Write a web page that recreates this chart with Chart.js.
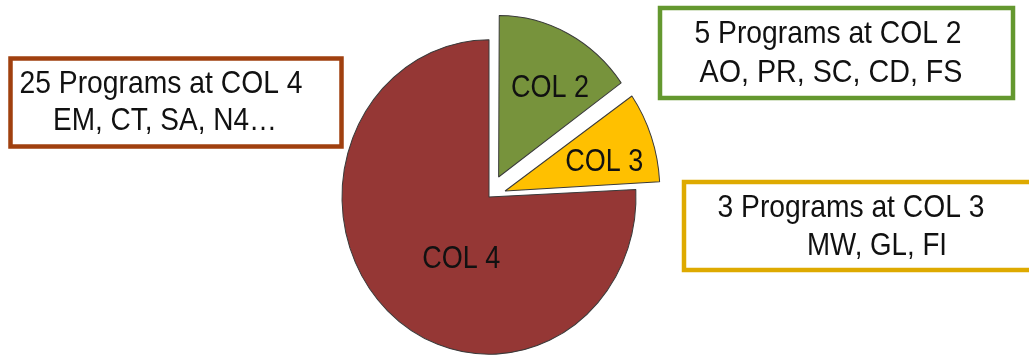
<!DOCTYPE html>
<html>
<head>
<meta charset="utf-8">
<script src="https://cdn.jsdelivr.net/npm/chart.js@4.4.1/dist/chart.umd.min.js"></script>
<style>
  html, body { margin: 0; padding: 0; background: #fff; }
  #wrap { position: relative; width: 1029px; height: 362px; }
</style>
</head>
<body>
<div id="wrap"><canvas id="pie_canvas"></canvas></div>
<script>
const categories = ['COL 2', 'COL 3', 'COL 4'];
const programCounts = [5, 3, 25];
const programCodes = ['AO, PR, SC, CD, FS', 'MW, GL, FI', 'EM, CT, SA, N4…'];
const sliceColors = ['#77933C', '#FFC000', '#953735'];
const boxColors = ['#64982F', '#DEAA00', '#A0400F'];
const explode = [84, 68, 0];

// callout boxes: rect + two text lines (center x, baseline, max width)
const boxes = [
  { rect: [660, 8, 353, 90], lines: [[828, 43, 267], [831, 82, 263]] },
  { rect: [684, 182, 360, 88], lines: [[851, 217, 267], [877, 255, 140]] },
  { rect: [10.5, 58.5, 331, 88], lines: [[161, 93, 283], [165, 130, 224]] }
];
// label placement inside slices: radius fraction, turn in degrees
const labelRadius = [0.65, 0.65, 0.42];
const labelTurn = [4, 3, -17];
const stretchY = 1.07;

Chart.defaults.font.family = "'Liberation Sans', Arial, sans-serif";

function arcShift(arc) {
  const off = (arc.options.offset || 0) / 4;
  const circ = arc.endAngle - arc.startAngle;
  return off * (2 - Math.sin(Math.min(Math.PI, circ)));
}

const stretchPlugin = {
  id: 'stretch',
  beforeDatasetsDraw(chart) {
    const arc = chart.getDatasetMeta(0).data[0];
    const ctx = chart.ctx;
    ctx.save();
    ctx.translate(arc.x, arc.y);
    ctx.scale(1, stretchY);
    ctx.translate(-arc.x, -arc.y);
  },
  afterDatasetsDraw(chart) {
    chart.ctx.restore();
  }
};

const labelPlugin = {
  id: 'labels',
  afterDraw(chart) {
    const ctx = chart.ctx;
    const arcs = chart.getDatasetMeta(0).data;
    ctx.save();
    ctx.fillStyle = '#111';
    ctx.font = "32px 'Liberation Sans', Arial, sans-serif";
    ctx.textAlign = 'center';
    ctx.textBaseline = 'alphabetic';
    arcs.forEach((arc, i) => {
      const mid = (arc.startAngle + arc.endAngle) / 2;
      const t = arcShift(arc);
      const a = mid + labelTurn[i] * Math.PI / 180;
      const d = labelRadius[i] * arc.outerRadius;
      const lx = arc.x + Math.cos(mid) * t + Math.cos(a) * d;
      const ly = arc.y + (Math.sin(mid) * t + Math.sin(a) * d) * stretchY;
      ctx.fillText(categories[i], lx, ly + 11.5, 78);
    });

    boxes.forEach((b, i) => {
      ctx.lineWidth = 4.5;
      ctx.strokeStyle = boxColors[i];
      ctx.strokeRect(b.rect[0], b.rect[1], b.rect[2], b.rect[3]);
      const texts = [programCounts[i] + ' Programs at ' + categories[i], programCodes[i]];
      texts.forEach((txt, j) => {
        const [x, y, w] = b.lines[j];
        ctx.fillText(txt, x, y, w);
      });
    });
    ctx.restore();
  }
};

new Chart(document.getElementById('pie_canvas'), {
  type: 'pie',
  data: {
    labels: categories,
    datasets: [{
      data: programCounts,
      backgroundColor: sliceColors,
      borderColor: '#3a3a3a',
      borderWidth: 1,
      offset: explode
    }]
  },
  options: {
    responsive: true,
    maintainAspectRatio: false,
    animation: false,
    radius: 147,
    layout: { padding: { left: 289, right: 340, top: 37, bottom: 5 } },
    plugins: {
      legend: { display: false },
      tooltip: { enabled: false }
    }
  },
  plugins: [stretchPlugin, labelPlugin]
});
</script>
</body>
</html>
